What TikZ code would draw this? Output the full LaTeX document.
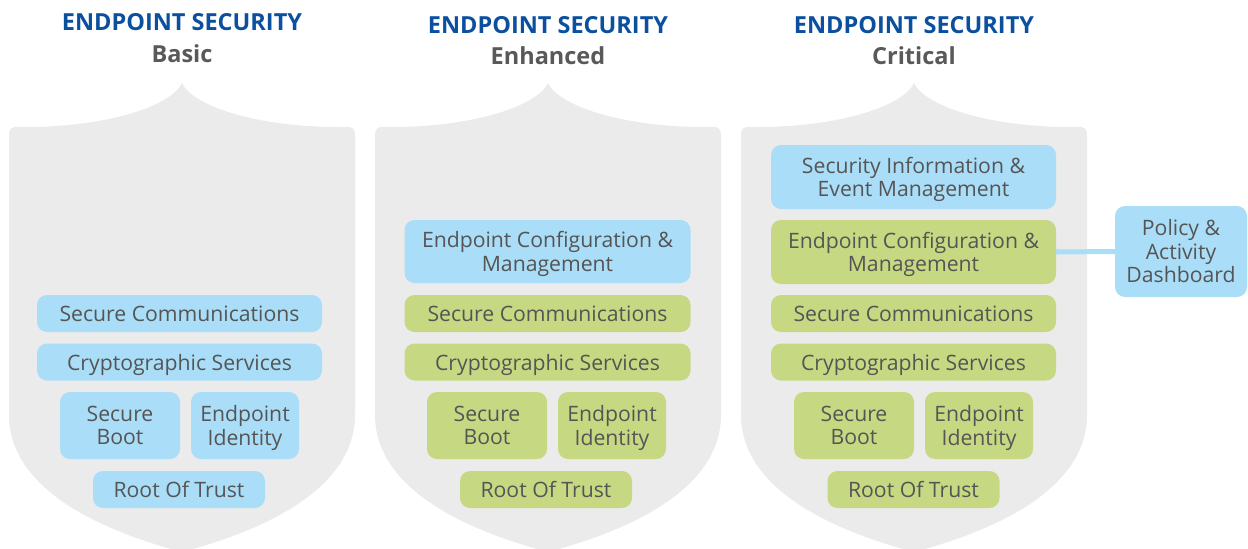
\documentclass[tikz,border=0pt]{standalone}
\usepackage{fontspec}
\setmainfont{Open Sans}
\definecolor{shieldgray}{HTML}{EBEBEB}
\definecolor{boxblue}{HTML}{AADDF7}
\definecolor{boxgreen}{HTML}{C6D982}
\definecolor{titleblue}{HTML}{0B4F9F}
\definecolor{subgray}{HTML}{595959}
\definecolor{txtgray}{HTML}{555555}
\tikzset{
  lbl/.style={text=txtgray, font=\fontsize{21.2}{23.5}\selectfont, align=center, inner sep=0pt, rounded corners=10pt},
  bluebox/.style={lbl, fill=boxblue},
  greenbox/.style={lbl, fill=boxgreen},
  oneline/.style={text height=16pt, text depth=0pt},
  ttl/.style={text=titleblue, font=\fontsize{23.5}{26}\selectfont\bfseries, anchor=base, inner sep=0pt},
  subttl/.style={text=subgray, font=\fontsize{23.5}{26}\selectfont\bfseries, anchor=base, inner sep=0pt},
  link/.style={draw=boxblue, line width=5pt}
}
\begin{document}
\begin{tikzpicture}[x=1pt, y=-1pt]
\useasboundingbox (0,0) rectangle (1248,549);
% shields
\foreach \o in {0,366,732}{
  \fill[shieldgray, shift={(\o,0)}] (9,136) -- (9,415) .. controls (9,480) and (80,525) .. (182,552)
    .. controls (284,525) and (355,480) .. (355,415) -- (355,136)
    .. controls (355,128) and (352,126) .. (344,127)
    .. controls (264,128) and (194,108) .. (182,83)
    .. controls (170,108) and (100,128) .. (20,127)
    .. controls (12,126) and (9,128) .. (9,136) -- cycle;
}
% titles
\node[ttl] (t1) at (182,30) {ENDPOINT SECURITY};
\node[subttl] (st1) at (182,62) {Basic};
\node[ttl] (t2) at (548,33) {ENDPOINT SECURITY};
\node[subttl] (st2) at (548,64) {Enhanced};
\node[ttl] (t3) at (914,33) {ENDPOINT SECURITY};
\node[subttl] (st3) at (914,64) {Critical};
% shield 1
\node[bluebox, oneline, minimum width=285pt, minimum height=37pt] (a-sc) at (179.5,313.5) {Secure Communications};
\node[bluebox, oneline, minimum width=285pt, minimum height=37pt] (a-cs) at (179.5,362) {Cryptographic Services};
\node[bluebox, minimum width=120pt, minimum height=67pt] (a-sb) at (120,425.5) {Secure\\\smash{Boot}};
\node[bluebox, minimum width=108pt, minimum height=67pt] (a-ei) at (245,425.5) {Endpoint\\\smash{Identity}};
\node[bluebox, oneline, minimum width=172pt, minimum height=37pt] (a-rt) at (179,489.5) {Root Of Trust};
% shield 2
\node[bluebox, minimum width=286pt, minimum height=63pt] (b-ec) at (547.5,251.5) {Endpoint Configuration \&\\\smash{Management}};
\node[greenbox, oneline, minimum width=286pt, minimum height=37pt] (b-sc) at (547.5,313.5) {Secure Communications};
\node[greenbox, oneline, minimum width=286pt, minimum height=37pt] (b-cs) at (547.5,362) {Cryptographic Services};
\node[greenbox, minimum width=120pt, minimum height=67pt] (b-sb) at (487,425.5) {Secure\\\smash{Boot}};
\node[greenbox, minimum width=108pt, minimum height=67pt] (b-ei) at (612,425.5) {Endpoint\\\smash{Identity}};
\node[greenbox, oneline, minimum width=172pt, minimum height=37pt] (b-rt) at (546,489.5) {Root Of Trust};
% shield 3
\node[bluebox, minimum width=285pt, minimum height=64pt] (c-si) at (913.5,177) {Security Information \&\\\smash{Event Management}};
\node[greenbox, minimum width=285pt, minimum height=64pt] (c-ec) at (913.5,252) {Endpoint Configuration \&\\\smash{Management}};
\node[greenbox, oneline, minimum width=285pt, minimum height=37pt] (c-sc) at (913.5,313.5) {Secure Communications};
\node[greenbox, oneline, minimum width=285pt, minimum height=37pt] (c-cs) at (913.5,362) {Cryptographic Services};
\node[greenbox, minimum width=120pt, minimum height=67pt] (c-sb) at (854,425.5) {Secure\\\smash{Boot}};
\node[greenbox, minimum width=108pt, minimum height=67pt] (c-ei) at (979,425.5) {Endpoint\\\smash{Identity}};
\node[greenbox, oneline, minimum width=172pt, minimum height=37pt] (c-rt) at (913.5,489.5) {Root Of Trust};
% policy
\node[bluebox, minimum width=132pt, minimum height=91pt] (pol) at (1181,251.5) {Policy \&\\Activity\\Dashboard};
\draw[link] (c-ec.east) -- (pol.west);
\end{tikzpicture}
\end{document}
